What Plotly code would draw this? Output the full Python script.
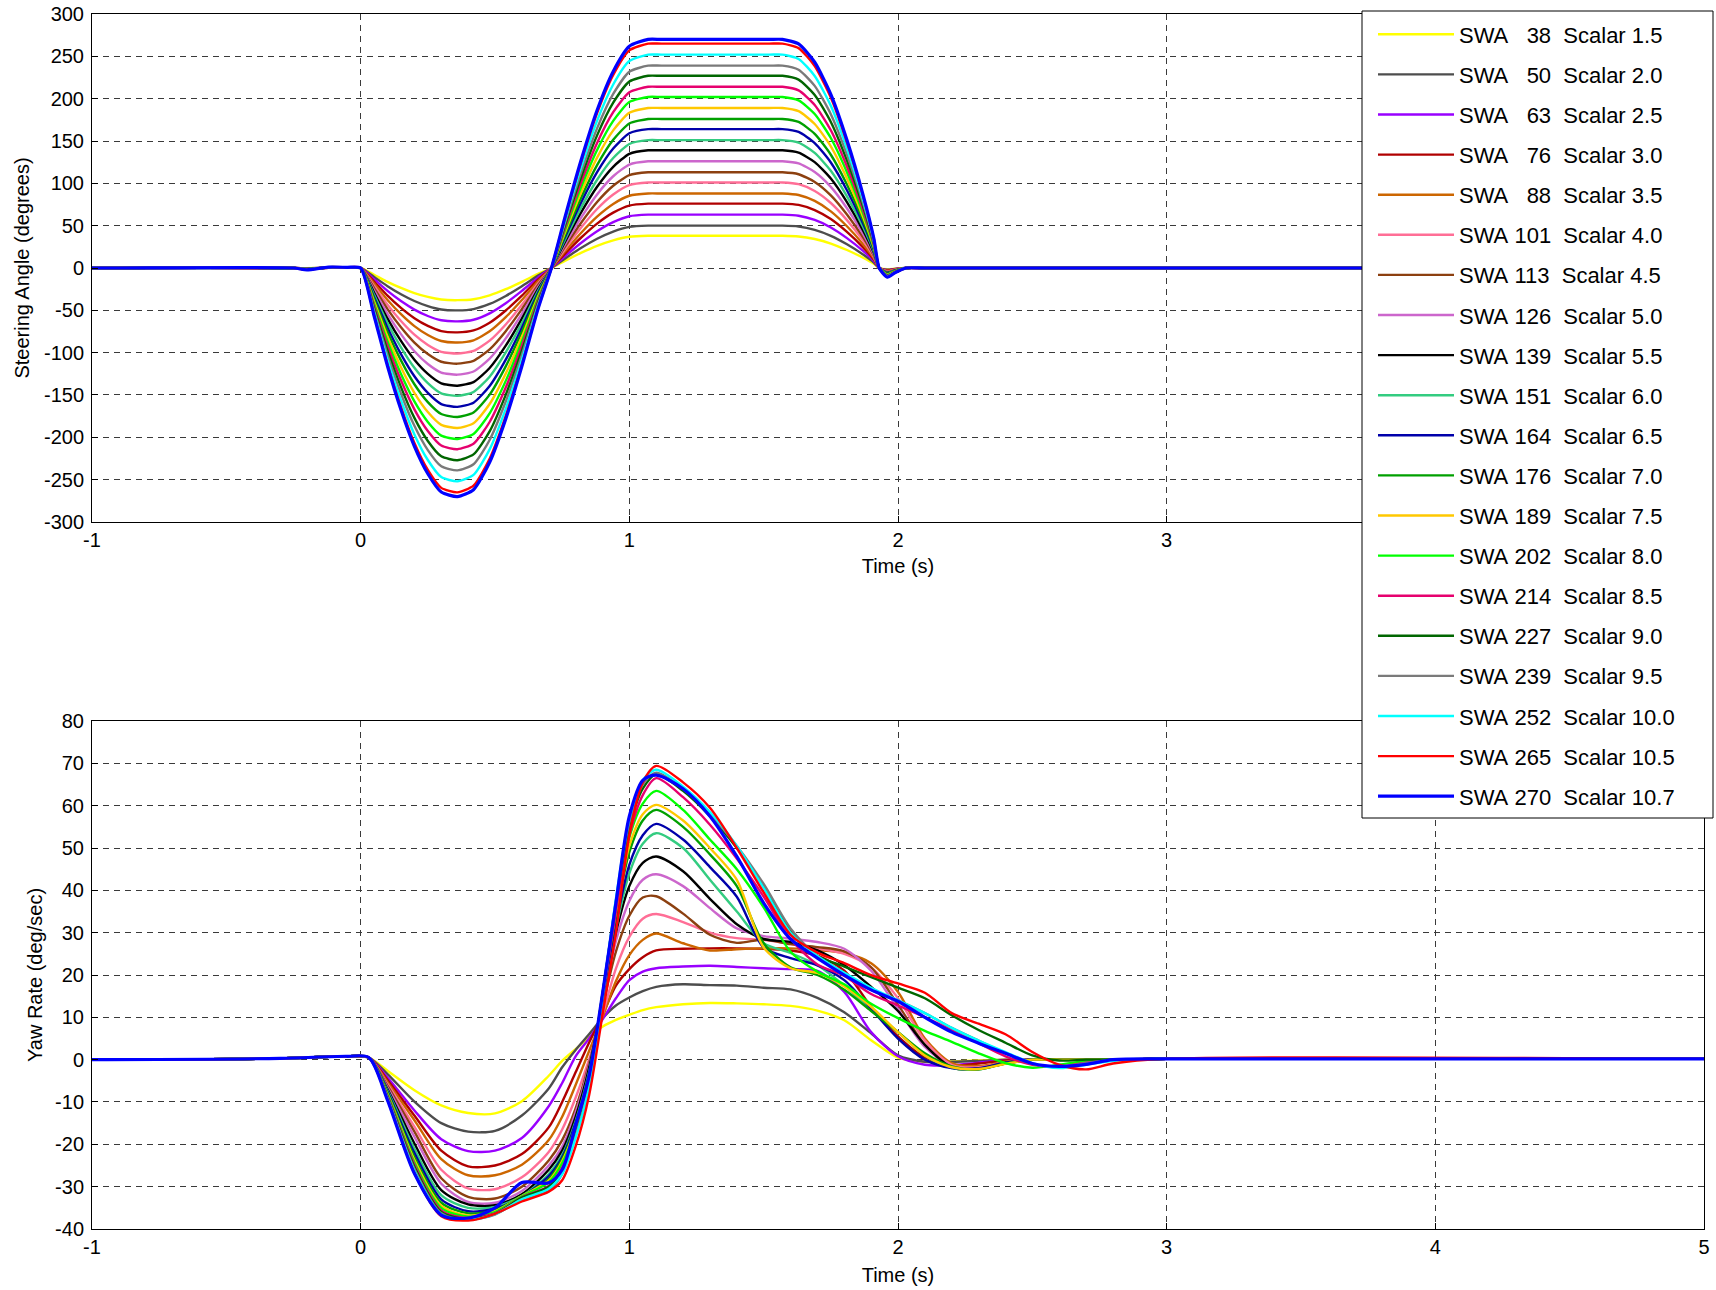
import plotly.graph_objects as go

# ---------------- data ----------------
swa = [38, 50, 63, 76, 88, 101, 113, 126, 139, 151, 164, 176, 189, 202, 214, 227, 239, 252, 265, 270]
scalar = ["1.5", "2.0", "2.5", "3.0", "3.5", "4.0", "4.5", "5.0", "5.5", "6.0",
          "6.5", "7.0", "7.5", "8.0", "8.5", "9.0", "9.5", "10.0", "10.5", "10.7"]
colors = ["#FFFF00", "#4D4D4D", "#9900FF", "#B00000", "#CC6600", "#FF6E96", "#8C4010",
          "#CC66CC", "#000000", "#33CC80", "#0000AA", "#00A000", "#FFC800", "#00FF00",
          "#E6006E", "#006600", "#7A7A7A", "#00FFFF", "#FF0000", "#0000FF"]

# steering profile (normalised to each SWA plateau)
steer_time = [-1.0, -0.9, -0.25, -0.2, -0.12, -0.05, 0.0, 0.05, 0.1, 0.15, 0.2, 0.25, 0.3,
              0.36, 0.42, 0.48, 0.54, 0.6, 0.66, 0.71, 0.76, 0.82, 0.88, 0.94, 1.0, 1.07,
              1.12, 1.52, 1.57, 1.63, 1.69, 1.75, 1.81, 1.87, 1.91, 1.93, 1.96, 1.99, 2.03,
              2.1, 4.9, 5.0]
steer_shape = [0, 0, 0, -0.008, 0.004, 0.003, 0, -0.21, -0.43, -0.62, -0.78, -0.9, -0.98,
               -1.0, -0.97, -0.85, -0.66, -0.43, -0.18, 0.0, 0.22, 0.47, 0.69, 0.86, 0.97, 1.0,
               1.0, 1.0, 1.0, 0.98, 0.9, 0.76, 0.56, 0.32, 0.13, 0.0, -0.04, -0.02, 0,
               0, 0, 0]

# yaw rate
yaw_time = [-1.0, -0.3, -0.05, 0.03, 0.1, 0.2, 0.3, 0.4, 0.5, 0.6, 0.7, 0.75, 0.8, 0.85, 0.9,
            0.95, 1.0, 1.05, 1.1, 1.2, 1.3, 1.4, 1.5, 1.6, 1.7, 1.8, 1.9, 2.0, 2.1, 2.2, 2.3,
            2.4, 2.5, 2.6, 2.7, 2.8, 3.0, 5.0]
yaw_038 = [0, 0.3, 0.8, 0.5, -2.6, -7.2, -10.8, -12.6, -12.7, -9.8, -3.8, -0.3, 2.5, 5.3, 7.8,
           9.4, 10.6, 11.7, 12.4, 13.1, 13.4, 13.3, 13.1, 12.7, 11.6, 9.3, 4.6, 0.5, -0.5, -0.4,
           -0.2, 0, 0, 0, 0, 0, 0.2, 0.2]
yaw_050 = [0, 0.3, 0.8, 0.5, -3.4, -9.9, -15.0, -17.0, -16.8, -13.2, -6.8, -1.8, 2.3, 6.0, 9.8,
           12.8, 14.7, 16.2, 17.2, 17.8, 17.6, 17.5, 17.0, 16.6, 14.6, 11.2, 6.2, 1.0, -0.5, -0.5,
           -0.3, 0, 0, 0, 0, 0, 0.2, 0.2]
yaw_063 = [0, 0.3, 0.8, 0.5, -4.2, -12.0, -18.8, -21.6, -21.5, -18.5, -11.0, -5.5, 0.8, 5.0, 9.5,
           14.5, 18.8, 20.8, 21.6, 22.0, 22.2, 21.9, 21.6, 21.4, 21.0, 16.0, 6.5, 0.8, -1.2, -1.3,
           -0.7, -0.2, 0, 0, 0, 0, 0.2, 0.2]
yaw_076 = [0, 0.3, 0.8, 0.5, -4.8, -13.2, -21.5, -25.2, -25.0, -22.3, -16.0, -10.0, -3.0, 4.0,
           10.5, 17.5, 21.4, 24.2, 25.8, 26.2, 26.3, 26.3, 26.2, 25.8, 24.6, 21.0, 12.5, 5.5, 0.5,
           -1.3, -0.9, -0.2, 0, 0, 0, 0, 0.2, 0.2]
yaw_088 = [0, 0.3, 0.8, 0.5, -5.3, -14.3, -23.5, -27.3, -27.3, -24.8, -19.0, -13.5, -6.0, 2.0,
           10.0, 18.5, 24.7, 28.3, 29.8, 27.5, 25.8, 26.1, 26.3, 26.3, 25.9, 25.2, 22.8, 16.0, 5.0,
           -0.8, -1.5, -0.5, 0, 0, 0, 0, 0.2, 0.2]
yaw_101 = [0, 0.3, 0.8, 0.5, -5.8, -15.8, -26.0, -30.4, -30.6, -27.8, -21.8, -16.5, -9.0, 0.0,
           10.5, 21.5, 29.0, 33.3, 34.4, 32.5, 30.0, 28.7, 28.3, 27.3, 26.3, 25.0, 21.8, 14.5, 4.5,
           -1.2, -1.8, -0.6, 0, 0, 0, 0, 0.2, 0.2]
yaw_113 = [0, 0.3, 0.8, 0.5, -6.2, -17.0, -28.0, -32.4, -32.8, -30.0, -23.8, -19.0, -11.5, -1.0,
           12.5, 25.5, 34.0, 38.3, 38.6, 34.5, 29.5, 27.6, 28.4, 27.3, 26.6, 25.6, 21.8, 13.0, 3.5,
           -1.8, -2.2, -0.6, 0, 0, 0, 0, 0.2, 0.2]
yaw_126 = [0, 0.3, 0.8, 0.5, -6.6, -18.2, -29.3, -33.6, -33.8, -31.0, -25.0, -20.5, -12.5, -1.5,
           13.5, 28.0, 37.5, 42.5, 43.8, 41.0, 35.8, 31.0, 29.2, 28.6, 27.8, 26.2, 21.0, 12.0, 3.0,
           -1.6, -2.2, -0.8, 0, 0, 0, 0, 0.2, 0.2]
yaw_139 = [0, 0.3, 0.8, 0.5, -7.0, -19.8, -30.8, -34.2, -34.4, -31.8, -26.0, -21.5, -13.5, -2.0,
           14.0, 30.0, 41.0, 46.5, 48.0, 44.5, 38.0, 32.0, 28.5, 27.8, 25.8, 22.3, 17.2, 11.5, 3.5,
           -1.8, -2.2, -0.9, 0, 0, 0, 0, 0.2, 0.2]
yaw_151 = [0, 0.3, 0.8, 0.5, -7.3, -21.0, -32.0, -35.0, -34.8, -32.2, -27.0, -22.5, -14.5, -3.0,
           14.0, 31.0, 44.0, 51.0, 53.5, 50.0, 42.5, 35.0, 27.5, 25.2, 22.3, 17.5, 11.8, 6.5, 1.0,
           -2.0, -2.3, -0.9, 0, 0, 0, 0, 0.2, 0.2]
yaw_164 = [0, 0.3, 0.8, 0.5, -7.6, -22.0, -33.0, -35.8, -35.2, -32.4, -27.5, -23.0, -15.0, -3.5,
           14.5, 32.0, 46.0, 53.0, 55.7, 52.0, 45.5, 38.5, 26.5, 24.0, 22.3, 18.8, 12.0, 5.0, 0.0,
           -2.0, -2.0, -0.7, 0, 0, 0, 0, 0.2, 0.2]
yaw_176 = [0, 0.3, 0.8, 0.5, -7.9, -23.0, -33.8, -36.3, -35.6, -32.3, -28.2, -23.5, -15.5, -4.0,
           15.0, 34.0, 49.0, 56.5, 59.0, 55.0, 48.5, 41.0, 27.5, 21.8, 20.0, 16.5, 11.5, 6.5, 1.5,
           -1.6, -2.3, -0.9, 0, 0, 0, 0, 0.2, 0.2]
yaw_189 = [0, 0.3, 0.8, 0.5, -8.1, -23.7, -34.5, -36.8, -35.8, -32.2, -28.6, -24.0, -16.0, -4.5,
           15.5, 35.0, 50.5, 58.0, 60.2, 56.5, 50.0, 42.5, 26.5, 21.6, 20.5, 17.3, 12.5, 6.5, 1.0,
           -1.8, -2.2, -1.0, 0, 0, 0, 0, 0.2, 0.2]
yaw_202 = [0, 0.3, 0.8, 0.5, -8.3, -24.3, -35.0, -37.1, -36.0, -32.3, -29.0, -24.5, -16.5, -5.0,
           15.5, 36.0, 52.5, 60.5, 63.5, 59.0, 52.0, 45.0, 36.0, 25.5, 20.8, 17.8, 13.2, 9.8, 6.8,
           4.2, 1.5, -0.8, -1.9, -1.2, -0.3, 0, 0.2, 0.2]
yaw_214 = [0, 0.3, 0.8, 0.5, -8.6, -24.8, -35.6, -37.4, -36.3, -32.5, -29.8, -25.5, -17.5, -6.0,
           14.5, 35.0, 53.0, 62.5, 66.5, 62.0, 55.5, 47.5, 38.5, 28.5, 22.5, 19.8, 15.5, 12.8,
           10.0, 7.0, 3.9, 0.8, -1.2, -1.6, -0.7, 0, 0.2, 0.2]
yaw_227 = [0, 0.3, 0.8, 0.5, -8.8, -25.3, -36.0, -37.6, -36.4, -32.6, -30.0, -26.0, -17.5, -5.5,
           15.5, 37.0, 55.0, 64.0, 67.4, 63.5, 57.5, 50.0, 41.0, 30.5, 24.5, 22.0, 19.5, 17.0,
           14.5, 10.5, 7.0, 4.0, 1.0, -0.2, 0, 0, 0.2, 0.2]
yaw_239 = [0, 0.3, 0.8, 0.5, -9.0, -25.8, -36.3, -37.8, -36.6, -33.0, -31.0, -27.0, -18.0, -6.0,
           15.0, 37.5, 56.0, 65.0, 67.8, 64.0, 58.0, 50.5, 41.5, 31.0, 24.5, 20.5, 16.5, 14.0,
           11.0, 7.5, 4.5, 1.5, -1.0, -1.8, -0.8, 0, 0.2, 0.2]
yaw_252 = [0, 0.3, 0.8, 0.5, -9.2, -26.3, -36.6, -37.8, -36.5, -33.0, -30.5, -27.0, -18.5, -6.5,
           15.0, 38.0, 57.0, 66.0, 68.5, 64.5, 58.5, 50.5, 40.5, 30.0, 24.5, 20.5, 17.0, 14.0,
           11.0, 7.5, 4.5, 1.8, -0.8, -2.0, -1.2, -0.3, 0.2, 0.2]
yaw_265 = [0, 0.3, 0.8, 0.5, -9.4, -26.8, -37.0, -38.0, -36.4, -33.5, -31.2, -28.5, -20.5, -8.5,
           10.5, 30.0, 53.0, 65.5, 69.4, 65.5, 59.5, 50.0, 39.5, 29.5, 25.3, 22.8, 20.0, 18.0,
           15.8, 11.0, 8.5, 6.0, 1.8, -1.2, -2.3, -0.9, 0.2, 0.2]
yaw_270 = [0, 0.3, 0.8, 0.5, -9.6, -26.9, -36.7, -37.4, -35.0, -29.0, -29.1, -26.0, -15.5, -4.0,
           15.5, 37.0, 57.5, 66.0, 67.2, 64.0, 57.5, 48.0, 37.0, 28.5, 24.0, 20.0, 16.5, 13.8,
           10.0, 6.5, 3.9, 1.5, -0.9, -1.6, -1.1, 0, 0.2, 0.2]
yaw_series = [yaw_038, yaw_050, yaw_063, yaw_076, yaw_088, yaw_101, yaw_113, yaw_126, yaw_139,
              yaw_151, yaw_164, yaw_176, yaw_189, yaw_202, yaw_214, yaw_227, yaw_239, yaw_252,
              yaw_265, yaw_270]

x_ticks = [-1, 0, 1, 2, 3, 4, 5]
steer_ticks = list(range(-300, 301, 50))
yaw_ticks = list(range(-40, 81, 10))

# ---------------- figure ----------------
W, H = 1716, 1290
ML, MR, MT, MB = 92, 12, 14, 61
PW, PH = W - ML - MR, H - MT - MB


def px_x(x):   # page pixel -> paper x
    return (x - ML) / PW


def px_y(y):   # page pixel -> paper y
    return (H - MB - y) / PH


NB = "\u00a0"
fig = go.Figure()
for i, a in enumerate(swa):
    pad = NB * 3 if a < 100 else NB
    name = f"SWA{pad}{a}{NB}{NB}Scalar {scalar[i]}"
    w = 3.2 if i == len(swa) - 1 else 2.4
    fig.add_trace(go.Scatter(
        x=steer_time, y=[a * s for s in steer_shape], mode="lines",
        line=dict(color=colors[i], width=w, shape="spline", smoothing=0.6),
        name=name, legendgroup=f"g{i}", xaxis="x", yaxis="y"))
for i, a in enumerate(swa):
    w = 3.2 if i == len(swa) - 1 else 2.4
    fig.add_trace(go.Scatter(
        x=yaw_time, y=yaw_series[i], mode="lines",
        line=dict(color=colors[i], width=w, shape="spline", smoothing=0.8),
        showlegend=False, legendgroup=f"g{i}", xaxis="x2", yaxis="y2"))

FONT = "Liberation Sans, Arial, sans-serif"
common = dict(showgrid=True, gridcolor="#3a3a3a", gridwidth=1, griddash="6px,5px",
              zeroline=False, showline=True, linecolor="black", linewidth=1, mirror=True,
              ticks="inside", ticklen=6, tickcolor="black", automargin=False,
              ticklabeloverflow="allow",
              tickfont=dict(family=FONT, size=20, color="black"))
ycommon = dict(common, ticklabelstandoff=3)

fig.update_layout(
    width=W, height=H,
    margin=dict(l=ML, r=MR, t=MT, b=MB),
    paper_bgcolor="white", plot_bgcolor="white",
    font=dict(family=FONT, size=20, color="black"),
    xaxis=dict(domain=[0, 1], anchor="y", range=[-1, 5], tickvals=x_ticks,
               ticktext=[str(v) for v in x_ticks],
               title=dict(text="Time (s)", standoff=9, font=dict(size=20)), **common),
    yaxis=dict(domain=[0.5819, 1], anchor="x", range=[-300, 300], tickvals=steer_ticks,
               ticktext=[str(v) for v in steer_ticks],
               title=dict(text="Steering Angle (degrees)", standoff=8, font=dict(size=20)), **ycommon),
    xaxis2=dict(domain=[0, 1], anchor="y2", range=[-1, 5], tickvals=x_ticks,
                ticktext=[str(v) for v in x_ticks],
                title=dict(text="Time (s)", standoff=10, font=dict(size=20)), **common),
    yaxis2=dict(domain=[0, 0.4181], anchor="x2", range=[-40, 80], tickvals=yaw_ticks,
                ticktext=[str(v) for v in yaw_ticks],
                title=dict(text="Yaw Rate (deg/sec)", standoff=7, font=dict(size=20)), **ycommon),
    legend=dict(x=px_x(1373), y=1.0, xanchor="left", yanchor="top",
                bgcolor="rgba(0,0,0,0)", borderwidth=0,
                font=dict(family=FONT, size=22, color="black"),
                tracegroupgap=8.5, itemwidth=76, traceorder="grouped"),
    showlegend=True,
    shapes=[dict(type="rect", xref="paper", yref="paper",
                 x0=px_x(1362), x1=px_x(1713), y0=px_y(818), y1=px_y(11),
                 fillcolor="white", line=dict(color="black", width=1), layer="above")],
)
try:
    fig.update_layout(legend=dict(maxheight=1100, y=px_y(13.5)))
except Exception:
    pass

fig.write_html(
    "out.html",
    config={"displayModeBar": False},
    post_script="document.body.style.margin='0';document.body.style.overflow='hidden';",
)
